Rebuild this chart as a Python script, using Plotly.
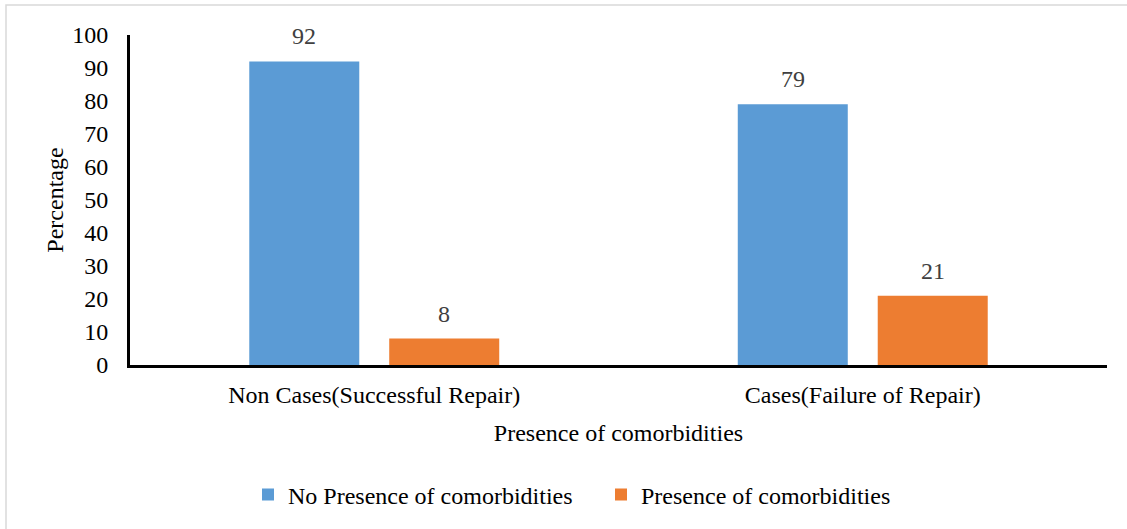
import plotly.graph_objects as go

categories = ["Non Cases(Successful Repair)", "Cases(Failure of Repair)"]
no_comorbid = [92, 79]
comorbid = [8, 21]
series_names = ["No Presence of comorbidities", "Presence of comorbidities"]
y_ticks = [0, 10, 20, 30, 40, 50, 60, 70, 80, 90, 100]

FONT = "Liberation Serif, Times New Roman, serif"
FS = 24
W, H = 1127, 529
L, R, T, B = 130, 20, 35, 164
pw, ph = W - L - R, H - T - B


def px_x(v):
    return (v - L) / pw


def px_y(v):
    return (H - B - v) / ph


fig = go.Figure()
colors = ["#5B9BD5", "#ED7D31"]
for i, (name, vals) in enumerate(zip(series_names, [no_comorbid, comorbid])):
    fig.add_trace(go.Bar(
        x=categories, y=vals, name=name, offsetgroup=str(i),
        marker=dict(color=colors[i], line=dict(width=0)),
    ))

# value labels above each bar, positioned over its group slot
slot_shift = [-70, 70]
for i, vals in enumerate([no_comorbid, comorbid]):
    for cat, v in zip(categories, vals):
        fig.add_annotation(
            x=cat, y=v, text=str(v), showarrow=False,
            xshift=slot_shift[i], yshift=25, yanchor="middle",
            font=dict(family=FONT, size=FS, color="#404040"),
        )

# outer chart frame
fig.add_shape(type="rect", xref="paper", yref="paper",
              x0=px_x(6), x1=px_x(1135), y0=px_y(5), y1=px_y(540),
              line=dict(color="#d9d9d9", width=1.5), layer="below")

fig.update_layout(
    width=W, height=H,
    margin=dict(l=L, r=R, t=T, b=B, autoexpand=False),
    paper_bgcolor="white", plot_bgcolor="white",
    barmode="group", bargap=0.427, bargroupgap=0.214,
    font=dict(family=FONT, size=FS, color="#000000"),
    xaxis=dict(
        showline=True, linecolor="black", linewidth=3,
        ticks="", showgrid=False, zeroline=False,
        tickfont=dict(family=FONT, size=FS, color="#000000"),
        ticklabelstandoff=6,
        title=dict(text="Presence of comorbidities", standoff=18,
                   font=dict(family=FONT, size=FS, color="#000000")),
    ),
    yaxis=dict(
        range=[0, 100], tickvals=y_ticks,
        showline=True, linecolor="black", linewidth=3,
        ticks="", showgrid=False, zeroline=False,
        tickfont=dict(family=FONT, size=FS, color="#000000"),
        ticklabelstandoff=14,
        title=dict(text="Percentage", standoff=2,
                   font=dict(family=FONT, size=FS, color="#000000")),
    ),
    legend=dict(
        orientation="h", x=px_x(248), xanchor="left",
        y=px_y(495), yanchor="middle",
        font=dict(family=FONT, size=FS, color="#000000"),
        itemwidth=30, entrywidth=308, traceorder="normal",
    ),
    showlegend=True,
)

fig.write_html("out.html")
